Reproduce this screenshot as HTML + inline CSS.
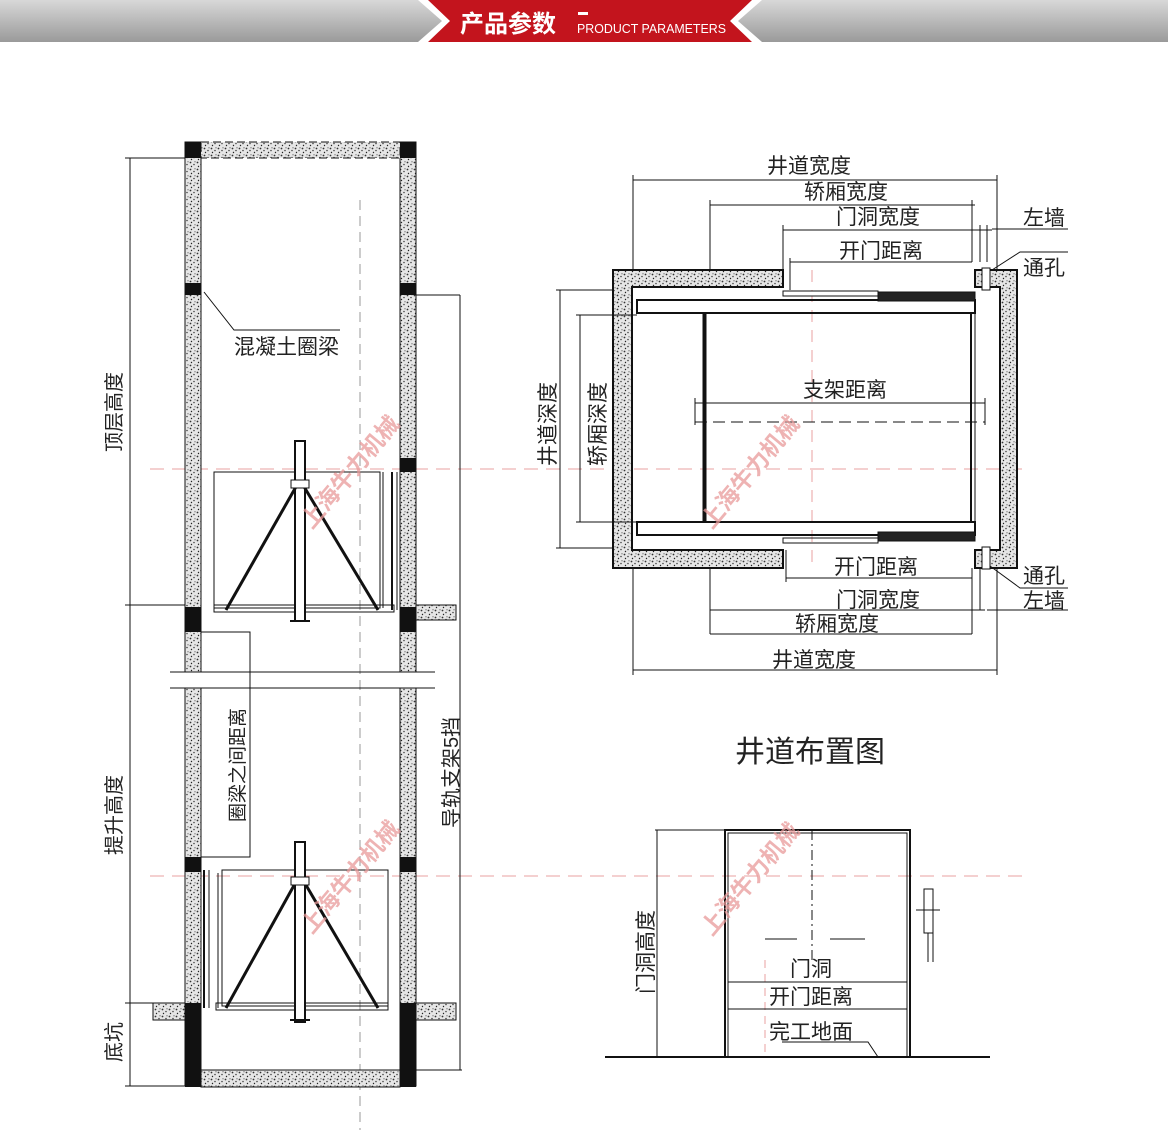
<!DOCTYPE html>
<html><head><meta charset="utf-8"><style>
html,body{margin:0;padding:0;background:#fff}
svg{display:block}
text{font-family:"Liberation Sans","Noto Sans CJK SC",sans-serif;fill:#222}
</style></head><body>
<svg width="1168" height="1132" viewBox="0 0 1168 1132" xmlns="http://www.w3.org/2000/svg">
<defs>
<pattern id="sp" width="7" height="7" patternUnits="userSpaceOnUse">
<rect width="7" height="7" fill="#e6e6e6"/>
<circle cx="1.5" cy="1.5" r="0.9" fill="#333"/><circle cx="5" cy="3.5" r="0.8" fill="#444"/><circle cx="2.5" cy="5.5" r="0.7" fill="#222"/><circle cx="6" cy="0.8" r="0.6" fill="#555"/>
</pattern>
<linearGradient id="hg" x1="0" y1="0" x2="0" y2="1"><stop offset="0" stop-color="#d8d8d8"/><stop offset="1" stop-color="#9a9a9a"/></linearGradient>
</defs>
<rect x="0" y="0" width="1168" height="42" fill="url(#hg)"/>
<polygon points="418,0 762,0 738,21 762,42 418,42 442,21" fill="#fff"/>
<polygon points="428,0 752,0 730,21 752,42 428,42 450,21" fill="#c3141d"/>
<text x="460" y="32" font-size="24" font-weight="bold" style="fill:#fff">产品参数</text>
<rect x="578" y="12" width="10" height="3" fill="#fff"/>
<text x="577" y="33" font-size="13" textLength="149" lengthAdjust="spacingAndGlyphs" style="fill:#fff">PRODUCT PARAMETERS</text>

<g stroke="#111" fill="none" stroke-width="1">
<line x1="360" y1="200" x2="360" y2="1130" stroke="#999" stroke-dasharray="10 6"/>
<line x1="150" y1="469" x2="1030" y2="469" stroke="#e8a0a0" stroke-dasharray="14 8"/>
<line x1="150" y1="876" x2="1030" y2="876" stroke="#e8a0a0" stroke-dasharray="14 8"/>
<rect x="185" y="142" width="16" height="530" fill="url(#sp)"/>
<rect x="400" y="142" width="16" height="530" fill="url(#sp)"/>
<rect x="185" y="688" width="16" height="398" fill="url(#sp)"/>
<rect x="400" y="688" width="16" height="398" fill="url(#sp)"/>
<rect x="201" y="142" width="199" height="16" fill="url(#sp)" stroke-dasharray="8 4"/>
<rect x="201" y="1070" width="199" height="17" fill="url(#sp)"/>
<rect x="416" y="605" width="40" height="15" fill="url(#sp)"/>
<rect x="153" y="1003" width="32" height="17" fill="url(#sp)"/>
<rect x="416" y="1003" width="40" height="17" fill="url(#sp)"/>
<line x1="170" y1="672" x2="435" y2="672"/><line x1="170" y1="688" x2="435" y2="688"/>
</g>
<g fill="#111">
<rect x="185" y="142" width="16" height="16"/><rect x="400" y="142" width="16" height="16"/>
<rect x="185" y="283" width="16" height="12"/><rect x="400" y="283" width="16" height="12"/>
<rect x="400" y="458" width="16" height="14"/>
<rect x="185" y="607" width="16" height="25"/><rect x="400" y="607" width="16" height="25"/>
<rect x="185" y="857" width="16" height="15"/><rect x="400" y="857" width="16" height="15"/>
<rect x="185" y="1003" width="16" height="84"/><rect x="400" y="1003" width="16" height="84"/>
</g>
<g stroke="#111" fill="none" stroke-width="1">
<line x1="130" y1="158" x2="130" y2="1086"/>
<line x1="125" y1="158" x2="185" y2="158"/><line x1="125" y1="605" x2="185" y2="605"/>
<line x1="125" y1="1003" x2="185" y2="1003"/><line x1="125" y1="1086" x2="185" y2="1086"/>
<line x1="416" y1="295" x2="460" y2="295"/><line x1="460" y1="295" x2="460" y2="1070"/><line x1="416" y1="1070" x2="462" y2="1070"/>
<polyline points="201,632 250,632 250,857 201,857"/>
<polyline points="204,292 234,330 340,330"/>
<rect x="214" y="472" width="166" height="136"/>
<line x1="383" y1="472" x2="383" y2="608"/>
<line x1="392" y1="472" x2="392" y2="610" stroke-width="2"/><line x1="397" y1="472" x2="397" y2="610"/>
<rect x="214" y="605" width="180" height="7"/>
<rect x="295" y="441" width="10" height="180" fill="#fff" stroke-width="2"/>
<line x1="290" y1="621" x2="310" y2="621" stroke-width="2"/>
<line x1="297" y1="485" x2="226" y2="610" stroke-width="3"/><line x1="303" y1="485" x2="378" y2="610" stroke-width="3"/>
<rect x="291" y="480" width="18" height="8" fill="#fff"/>
<rect x="222" y="870" width="166" height="136"/>
<line x1="204" y1="870" x2="204" y2="1008" stroke-width="2"/><line x1="209" y1="870" x2="209" y2="1008"/>
<line x1="218" y1="873" x2="218" y2="1008"/>
<rect x="216" y="1003" width="172" height="7"/>
<rect x="295" y="842" width="10" height="180" fill="#fff" stroke-width="2"/>
<line x1="290" y1="1020" x2="310" y2="1020" stroke-width="2"/>
<line x1="297" y1="880" x2="226" y2="1008" stroke-width="3"/><line x1="303" y1="880" x2="378" y2="1008" stroke-width="3"/>
<rect x="291" y="877" width="18" height="8" fill="#fff"/>
</g>
<text font-size="20" transform="translate(121,452) rotate(-90)">顶层高度</text>
<text font-size="20" transform="translate(121,855) rotate(-90)">提升高度</text>
<text font-size="20" transform="translate(121,1062) rotate(-90)">底坑</text>
<text font-size="19" transform="translate(244,822) rotate(-90)">圈梁之间距离</text>
<text font-size="20" transform="translate(458,828) rotate(-90)">导轨支架5挡</text>
<text x="234" y="354" font-size="21">混凝土圈梁</text>

<g stroke="#111" fill="none" stroke-width="1">
<line x1="812" y1="270" x2="812" y2="568" stroke="#e8a0a0" stroke-dasharray="12 8"/>
<path d="M613,270 H783 V287 H632 V550 H783 V568 H613 Z" fill="url(#sp)" stroke-width="2"/>
<path d="M975,270 H1017 V568 H975 V550 H1000 V287 H975 Z" fill="url(#sp)" stroke-width="2"/>
<rect x="637" y="300" width="338" height="13" stroke-width="2"/>
<rect x="637" y="522" width="338" height="13" stroke-width="2"/>
<rect x="783" y="291" width="95" height="5" fill="#fff"/><rect x="783" y="538" width="95" height="5"/>
<rect x="878" y="292" width="97" height="9" fill="#222"/><rect x="878" y="532" width="97" height="9" fill="#222"/>
<rect x="703" y="313" width="272" height="209"/>
<line x1="705" y1="313" x2="705" y2="522" stroke-width="3"/>
<line x1="971" y1="313" x2="971" y2="522" stroke-width="2"/>
<rect x="982" y="268" width="8" height="22" fill="#fff"/><rect x="982" y="547" width="8" height="22" fill="#fff"/>
<line x1="695" y1="403" x2="985" y2="403"/><line x1="695" y1="398" x2="695" y2="425"/><line x1="985" y1="398" x2="985" y2="425"/>
<line x1="695" y1="422" x2="985" y2="422" stroke-dasharray="12 6"/>
<line x1="633" y1="180" x2="997" y2="180"/><line x1="633" y1="175" x2="633" y2="270"/><line x1="997" y1="175" x2="997" y2="270"/>
<line x1="710" y1="205" x2="975" y2="205"/><line x1="710" y1="200" x2="710" y2="270"/><line x1="972" y1="200" x2="972" y2="262"/>
<line x1="783" y1="230" x2="992" y2="230"/><line x1="783" y1="225" x2="783" y2="270"/><line x1="980" y1="225" x2="980" y2="262"/><line x1="987" y1="225" x2="987" y2="262"/>
<line x1="790" y1="262" x2="972" y2="262"/><line x1="790" y1="258" x2="790" y2="290"/>
<polyline points="992,229 1022,229 1068,229"/>
<polyline points="992,270 1020,252 1068,252"/>
<line x1="786" y1="578" x2="972" y2="578"/><line x1="786" y1="550" x2="786" y2="582"/>
<line x1="710" y1="610" x2="985" y2="610"/><line x1="710" y1="568" x2="710" y2="634"/><line x1="972" y1="568" x2="972" y2="634"/><line x1="980" y1="568" x2="980" y2="610"/>
<line x1="710" y1="634" x2="972" y2="634"/>
<line x1="633" y1="670" x2="997" y2="670"/><line x1="633" y1="568" x2="633" y2="675"/><line x1="997" y1="568" x2="997" y2="675"/>
<polyline points="990,566 1020,588 1068,588"/><polyline points="987,610 1068,610"/>
<line x1="560" y1="290" x2="560" y2="548"/><line x1="556" y1="290" x2="613" y2="290"/><line x1="556" y1="548" x2="613" y2="548"/>
<line x1="580" y1="315" x2="580" y2="522"/><line x1="576" y1="315" x2="637" y2="315"/><line x1="576" y1="522" x2="637" y2="522"/>
</g>
<g font-size="21">
<text x="767" y="173">井道宽度</text>
<text x="804" y="199">轿厢宽度</text>
<text x="836" y="224">门洞宽度</text>
<text x="839" y="258">开门距离</text>
<text x="1023" y="225">左墙</text>
<text x="1023" y="275">通孔</text>
<text x="803" y="397">支架距离</text>
<text x="834" y="574">开门距离</text>
<text x="836" y="607">门洞宽度</text>
<text x="795" y="631">轿厢宽度</text>
<text x="772" y="667">井道宽度</text>
<text x="1023" y="583">通孔</text>
<text x="1023" y="608">左墙</text>
<text transform="translate(555,466) rotate(-90)">井道深度</text>
<text transform="translate(605,466) rotate(-90)">轿厢深度</text>
</g>
<text x="735" y="762" font-size="30">井道布置图</text>

<g stroke="#111" fill="none" stroke-width="1">
<line x1="812" y1="830" x2="812" y2="960" stroke-dasharray="10 4 2 4"/>
<line x1="765" y1="960" x2="765" y2="1055" stroke="#e8a0a0" stroke-dasharray="8 6"/>
<line x1="605" y1="1057" x2="990" y2="1057" stroke-width="2"/>
<rect x="725" y="830" width="185" height="227" stroke-width="2"/>
<rect x="728" y="833" width="179" height="224"/>
<line x1="655" y1="830" x2="725" y2="830"/><line x1="657" y1="830" x2="657" y2="1057"/>
<line x1="728" y1="982" x2="907" y2="982"/><line x1="728" y1="1009" x2="907" y2="1009"/>
<line x1="765" y1="939" x2="797" y2="939"/><line x1="830" y1="939" x2="865" y2="939"/>
<polyline points="782,1042 868,1042 878,1057"/>
<rect x="924" y="889" width="9" height="44"/><line x1="916" y1="910" x2="940" y2="910"/><line x1="928" y1="933" x2="928" y2="962"/><line x1="933" y1="933" x2="933" y2="962"/>
</g>
<g font-size="21">
<text x="790" y="976">门洞</text>
<text x="769" y="1004">开门距离</text>
<text x="769" y="1039">完工地面</text>
<text transform="translate(653,994) rotate(-90)">门洞高度</text>
</g>

<g font-size="23" font-weight="bold" opacity="0.75">
<text transform="translate(312,530) rotate(-50)" style="fill:#e89a9a">上海牛力机械</text>
<text transform="translate(312,935) rotate(-50)" style="fill:#e89a9a">上海牛力机械</text>
<text transform="translate(712,530) rotate(-50)" style="fill:#e89a9a">上海牛力机械</text>
<text transform="translate(712,937) rotate(-50)" style="fill:#e89a9a">上海牛力机械</text>
</g>
</svg>
</body></html>
